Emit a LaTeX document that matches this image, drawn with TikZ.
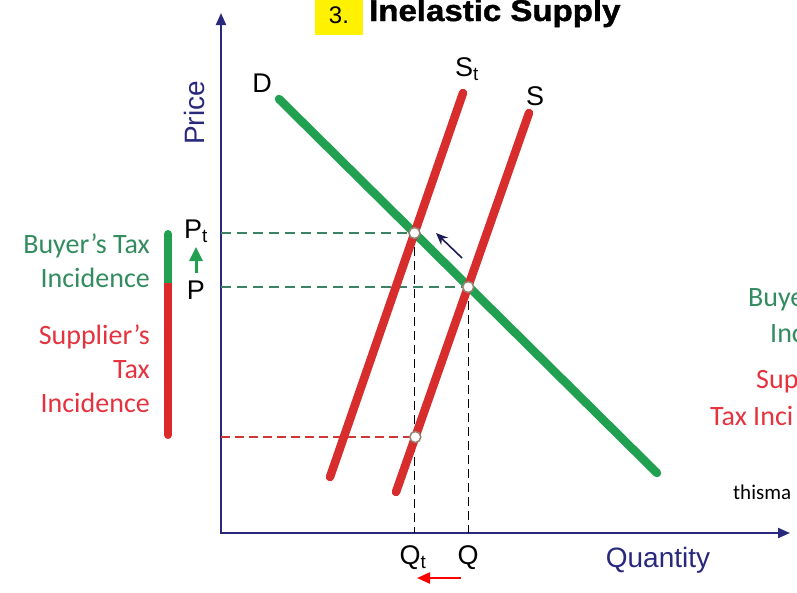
\documentclass[tikz,border=0pt]{standalone}
\usepackage{fontspec}
\setmainfont{Liberation Sans}
\newfontfamily\calfont{Carlito}
\newfontfamily\heavy[BoldFeatures={FakeBold=1.3}]{Liberation Sans}
\usetikzlibrary{arrows.meta}
\definecolor{navy}{RGB}{40,40,125}
\definecolor{dgreen}{RGB}{32,160,80}
\definecolor{dred}{RGB}{215,45,45}
\definecolor{tgreen}{RGB}{50,140,95}
\definecolor{tred}{RGB}{228,50,62}
\definecolor{dashgreen}{RGB}{60,130,100}
\definecolor{dashred}{RGB}{205,55,55}
\definecolor{ringcol}{RGB}{150,130,110}
\definecolor{ttl}{RGB}{255,242,0}
\tikzset{
  axis/.style={navy,line width=2pt,-{Triangle[length=12pt,width=10pt]}},
  curve/.style={line width=8.5pt,line cap=round},
  gdash/.style={dashgreen,line width=2pt,dash pattern=on 10pt off 6pt},
  rdash/.style={dashred,line width=1.3pt,dash pattern=on 9pt off 5pt},
  kdash/.style={black,line width=1.3pt,dash pattern=on 9pt off 5pt},
  ring/.style={circle,draw=ringcol,fill=white,line width=1.5pt,minimum size=11pt,inner sep=0pt},
  lbl/.style={font=\fontsize{27}{30}\selectfont,inner sep=0pt},
  inc/.style={font=\calfont\fontsize{28}{34}\selectfont,inner sep=0pt,align=right},
}
\begin{document}
\begin{tikzpicture}[x=1pt,y=-1pt]
\useasboundingbox (0,0) rectangle (797,592);
\clip (0,0) rectangle (797,592);
% title
\node[fill=ttl,minimum width=48pt,minimum height=36pt,inner sep=0pt] (tbox) at (339,17) {};
\node[font=\fontsize{24}{28}\selectfont,anchor=base] (tnum) at (339,23) {3.};
\node[font=\heavy\bfseries\fontsize{30}{34}\selectfont,anchor=base west,inner sep=0pt] (ttext) at (369,21) {\scalebox{1.1}[1]{Inelastic Supply}};
% axes
\coordinate (O) at (221,533);
\coordinate (ytop) at (221,13);
\coordinate (xend) at (790,533);
\draw[axis] (O) -- (ytop);
\draw[navy,line width=2pt] (221,534) -- (O);
\draw[axis] (O) -- (xend);
% curves
\coordinate (D1) at (279,99);
\coordinate (D2) at (657,473);
\coordinate (St1) at (463,93);
\coordinate (St2) at (330,477);
\coordinate (S1) at (529,113);
\coordinate (S2) at (396,492);
\coordinate (Et) at (414.5,233);
\coordinate (E) at (468.2,287);
\coordinate (Es) at (415.3,437);
% dashed guides
\draw[gdash] (O |- Et) -- (Et);
\draw[gdash] (O |- E) -- (E);
\draw[rdash] (O |- Es) -- (Es);
\draw[kdash] (Et) -- (Et |- O);
\draw[kdash] (E) -- (E |- O);
\draw[curve,dgreen] (D1) -- (D2);
\draw[curve,dred] (St1) -- (St2);
\draw[curve,dred] (S1) -- (S2);
\node[ring] (cEt) at (Et) {};
\node[ring] (cE) at (E) {};
\node[ring] (cEs) at (Es) {};
% shift arrow
\coordinate (sa1) at (462,258);
\coordinate (sa2) at (436,233);
\draw[navy!70!black,line width=1.6pt,-{Stealth[length=12pt,width=10pt]}] (sa1) -- (sa2);
% curve labels
\node[lbl] (Dl) at (262,83) {D};
\node[lbl] (Stl) at (467,69) {S\textsubscript{t}};
\node[lbl] (Sl) at (535,96) {S};
% axis labels
\node[lbl,navy,font=\fontsize{28}{30}\selectfont,rotate=90] (price) at (194,113) {Price};
\node[lbl,navy,font=\fontsize{28}{30}\selectfont] (qty) at (658,560) {Quantity};
\node[lbl] (Ptl) at (196,231) {P\textsubscript{t}};
\node[lbl] (Pl) at (196,290) {P};
\node[lbl] (Qtl) at (413,558) {Q\textsubscript{t}};
\node[lbl] (Ql) at (468,558) {Q};
\coordinate (ga1) at (196,273);
\coordinate (ga2) at (196,247);
\draw[dgreen,line width=3pt,-{Triangle[length=14pt,width=13pt]}] (ga1) -- (ga2);
\coordinate (ra1) at (461,578);
\coordinate (ra2) at (417,578);
\draw[red,line width=2.2pt,-{Triangle[length=13pt,width=11pt]}] (ra1) -- (ra2);
% incidence bar
\coordinate (b1) at (168,234);
\coordinate (b2) at (168,285);
\coordinate (b3) at (168,435);
\draw[dred!90!red,line width=8pt,line cap=round] (b2) -- (b3);
\draw[dgreen,line width=8pt,line cap=round] (b1) -- (b2);
\draw[dred!90!red,line width=8pt] (168,283) -- (b2) -- (168,290);
\node[inc,tgreen,anchor=east] (buy) at (150,261) {Buyer’s Tax\\Incidence};
\node[inc,tred,anchor=east] (sup) at (150,369) {Supplier’s\\Tax\\Incidence};
% clipped text at right edge
\node[inc,tgreen,anchor=west] (rb1) at (748,300) {Buye};
\node[inc,tgreen,anchor=west] (rb2) at (770,334) {Inc};
\node[inc,tred,anchor=west] (rs1) at (756,382) {Sup};
\node[inc,tred,anchor=west] (rs2) at (710,416) {Tax Inci};
\node[font=\calfont\fontsize{21}{24}\selectfont,inner sep=0pt,anchor=west] (src) at (733,492) {thisma};
\end{tikzpicture}
\end{document}
